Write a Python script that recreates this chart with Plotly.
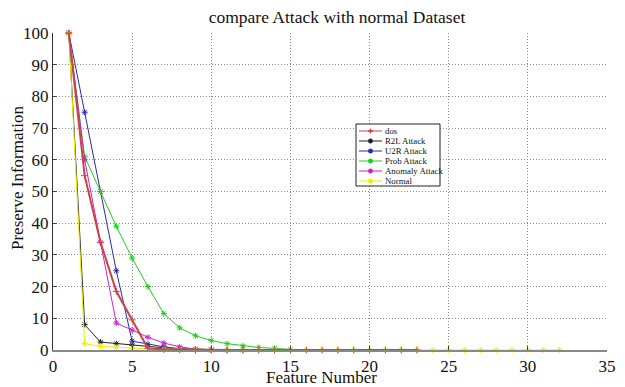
import plotly.graph_objects as go

x_dos = list(range(1, 24))
y_dos = [100, 55, 34, 18.5, 9.5, 0.5, 0.2, 0.1, 0, 0, 0, 0, 0, 0, 0, 0, 0, 0, 0, 0, 0, 0, 0]
x_r2l = list(range(1, 13))
y_r2l = [100, 8, 2.5, 2, 1.5, 1, 0.7, 0.4, 0.2, 0.1, 0, 0]
x_u2r = list(range(1, 11))
y_u2r = [100, 75, 50, 25, 2.8, 1.8, 1, 0.4, 0.1, 0]
x_prob = list(range(1, 16))
y_prob = [100, 61, 50, 39, 29, 20, 11.5, 7, 4.5, 3, 2, 1.3, 0.8, 0.5, 0.2]
x_anom = list(range(1, 11))
y_anom = [100, 60, 34, 8.5, 6.3, 4, 2.2, 1, 0.3, 0]
x_norm = list(range(1, 33))
y_norm = [100, 2, 1.2, 0.8, 0.6, 0.4, 0.3, 0.2, 0.1] + [0] * 23

font = "Liberation Serif, Times New Roman, serif"

# legend order
series = [
    ("dos", x_dos, y_dos, "#c84444", "cross-thin-open", 2),
    ("R2L Attack", x_r2l, y_r2l, "#222222", "asterisk-open", 1),
    ("U2R Attack", x_u2r, y_u2r, "#2a2ab0", "asterisk-open", 1),
    ("Prob Attack", x_prob, y_prob, "#22cc22", "asterisk-open", 1),
    ("Anomaly Attack", x_anom, y_anom, "#d020d0", "asterisk-open", 1),
    ("Normal", x_norm, y_norm, "#eeee00", "asterisk-open", 1),
]
# drawing order (dos line sits on top of the flat Normal line)
draw_order = [1, 2, 3, 4, 5, 0]

# page body has an 8px default margin; size the figure so the plot lands where wanted
OFF = 8
SW, SH = 625, 387                      # screen size
W, H = SW - OFF, SH - OFF              # figure size
PL, PR, PT, PB = 53, 607, 33, 350      # plot area in screen pixels
ML, MT = PL - OFF, PT - OFF
MR, MB = SW - PR, SH - PB
PW, PH = PR - PL, PB - PT


def px(xs):
    return (xs - PL) / PW


def py(ys):
    return (PB - ys) / PH


fig = go.Figure()
for k in draw_order:
    name, xs, ys, col, sym, lw = series[k]
    fig.add_trace(go.Scatter(
        x=xs, y=ys, name=name, mode="lines+markers",
        line=dict(color=col, width=lw),
        marker=dict(symbol=sym, size=5, color=col, line=dict(color=col, width=1)),
        cliponaxis=False, showlegend=False,
    ))

# Custom compact legend (paper coordinates from screen pixel positions)
shapes = []
annots = []
shapes.append(dict(type="rect", xref="paper", yref="paper", x0=px(356), x1=px(440),
                   y0=py(186), y1=py(124), line=dict(color="#222", width=1),
                   fillcolor="white", layer="above"))
row_y0, row_dy = 131, 10
for i, (name, xs, ys, col, sym, lw) in enumerate(series):
    yy = row_y0 + i * row_dy
    shapes.append(dict(type="line", xref="paper", yref="paper", x0=px(359), x1=px(382),
                       y0=py(yy), y1=py(yy), line=dict(color=col, width=1), layer="above"))
    cx, r = 370.5, 2.5
    if sym.startswith("cross"):
        path = (f"M{px(cx - r)},{py(yy)} L{px(cx + r)},{py(yy)} "
                f"M{px(cx)},{py(yy - r)} L{px(cx)},{py(yy + r)}")
    else:
        path = (f"M{px(cx - r)},{py(yy)} L{px(cx + r)},{py(yy)} "
                f"M{px(cx)},{py(yy - r)} L{px(cx)},{py(yy + r)} "
                f"M{px(cx - r * 0.7)},{py(yy - r * 0.7)} L{px(cx + r * 0.7)},{py(yy + r * 0.7)} "
                f"M{px(cx - r * 0.7)},{py(yy + r * 0.7)} L{px(cx + r * 0.7)},{py(yy - r * 0.7)}")
    shapes.append(dict(type="path", xref="paper", yref="paper", path=path,
                       line=dict(color=col, width=1.3), layer="above"))
    annots.append(dict(x=px(383), y=py(yy), xref="paper", yref="paper", text=name,
                       showarrow=False, xanchor="left", yanchor="middle",
                       font=dict(family=font, size=8.8, color="#111")))

# axis titles as annotations for exact placement
annots.append(dict(x=px(321), y=py(377.5), xref="paper", yref="paper", text="Feature Number",
                   showarrow=False, xanchor="center", yanchor="middle",
                   font=dict(family=font, size=17, color="#111")))
annots.append(dict(x=px(17), y=py(178), xref="paper", yref="paper", text="Preserve Information",
                   showarrow=False, xanchor="center", yanchor="middle", textangle=-90,
                   font=dict(family=font, size=17, color="#111")))

fig.update_layout(
    width=W, height=H,
    margin=dict(l=ML, r=MR, t=MT, b=MB),
    paper_bgcolor="white", plot_bgcolor="white",
    title=dict(text="compare Attack with normal Dataset", x=(337 - OFF) / W, xanchor="center",
               y=1 - (17 - OFF) / H, yanchor="middle",
               font=dict(family=font, size=17.5, color="#111")),
    font=dict(family=font, color="#111"),
    showlegend=False,
    shapes=shapes,
    annotations=annots,
    xaxis=dict(range=[0, 35], dtick=5, showgrid=True, gridcolor="#888",
               griddash="1px,2px", gridwidth=1, zeroline=False, showline=True,
               linecolor="#888", linewidth=2, ticks="inside", ticklen=4, tickcolor="#444",
               tickfont=dict(family=font, size=17), automargin=False),
    yaxis=dict(range=[0, 100], dtick=10, showgrid=True, gridcolor="#888",
               griddash="1px,2px", gridwidth=1, zeroline=False, showline=True,
               linecolor="#333", linewidth=1, ticks="inside", ticklen=4, tickcolor="#444",
               tickfont=dict(family=font, size=17), automargin=False),
)

fig.write_html("out.html")
